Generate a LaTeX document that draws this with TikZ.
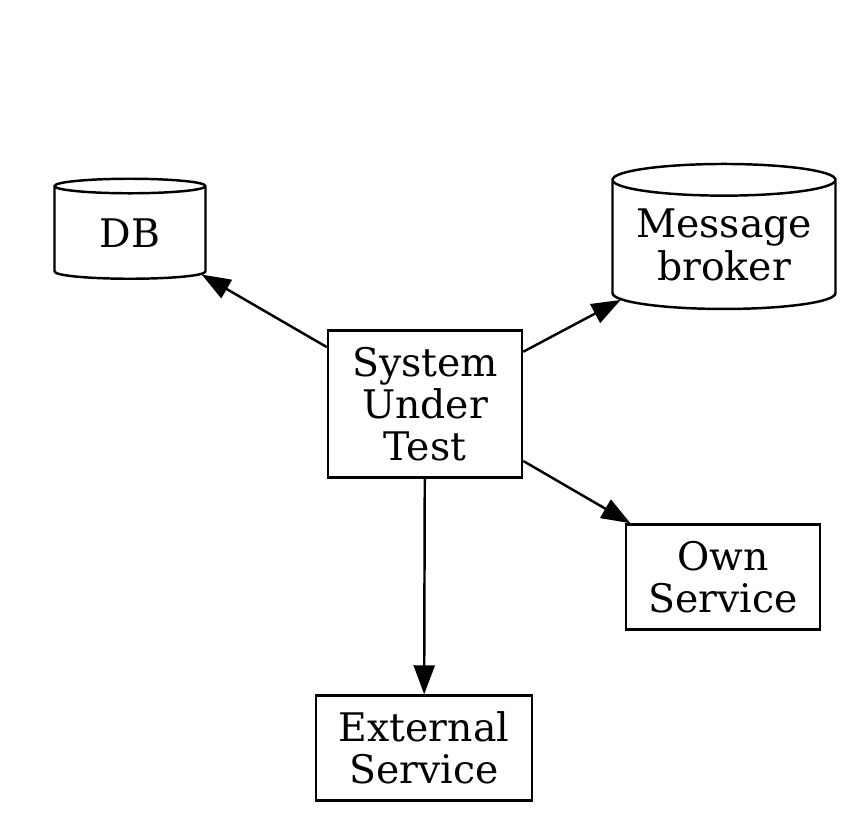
\documentclass[tikz,border=0pt]{standalone}
\usepackage{fontspec}
\setmainfont{DejaVu Serif}
\usetikzlibrary{arrows.meta,shapes.geometric}

\begin{document}
\begin{tikzpicture}[
        svcbox/.style={rectangle, draw=black, line width=0.7pt, inner sep=0pt,
                       align=center, font=\fontsize{11.2}{12}\selectfont},
        storebox/.style={cylinder, shape border rotate=90, aspect=0.18, draw=black,
                         line width=0.7pt, inner sep=0pt, align=center,
                         font=\fontsize{11.2}{12}\selectfont},
        myarrow/.style={-{Triangle[length=0.29cm, width=0.21cm]}, line width=0.7pt}
      ]
        \useasboundingbox (0,0) rectangle (8.48,8.13);

        \node[svcbox, minimum width=1.94cm, minimum height=1.47cm] (sut) at (4.25,4.09) {System\\Under\\Test};

        \node[storebox, aspect=0.24, minimum width=1.51cm, minimum height=1.00cm] (db) at (1.30,5.80) {DB};
        \node[storebox, minimum width=2.23cm, minimum height=1.45cm] (mq) at (7.24,5.68) {Message\\broker};

        \node[svcbox, minimum width=1.94cm, minimum height=1.05cm] (own) at (7.23,2.36) {Own\\Service};
        \node[svcbox, minimum width=2.16cm, minimum height=1.05cm] (ext) at (4.24,0.65) {External\\Service};

        \draw[myarrow] (sut) -- (db);
        \draw[myarrow] (sut) -- (mq);
        \draw[myarrow] (sut) -- (own);
        \draw[myarrow] (sut) -- (ext);
      \end{tikzpicture}
\end{document}
